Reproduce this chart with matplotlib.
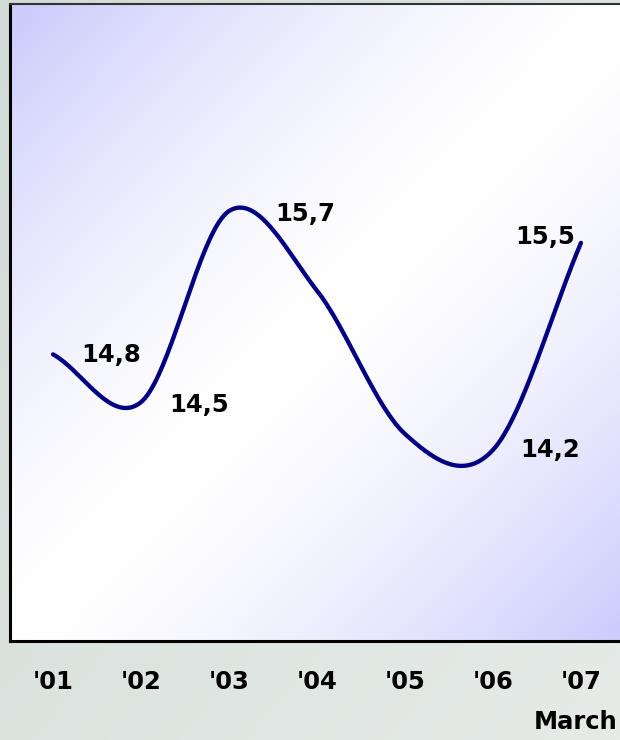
import numpy as np
import matplotlib
matplotlib.use('Agg')
import matplotlib.pyplot as plt
from matplotlib.colors import LinearSegmentedColormap

years = ["'01", "'02", "'03", "'04", "'05", "'06", "'07"]
values = [14.8, 14.5, 15.7, 15.2, 14.3, 14.2, 15.5]
labelled = [0, 1, 2, 5, 6]
# label offsets in pixels from each point
label_offsets = {0: (58, -1), 1: (58, -3), 2: (76, -3), 5: (57, 0), 6: (-36, 6)}


def smooth(y, n=40):
    # cardinal (Catmull-Rom) spline through the points, like a "smoothed line"
    y = np.asarray(y, dtype=float)
    m = np.empty_like(y)
    m[1:-1] = (y[2:] - y[:-2]) / 2
    m[0] = y[1] - y[0]
    m[-1] = y[-1] - y[-2]
    xs, ys = [], []
    t = np.linspace(0, 1, n, endpoint=False)
    for i in range(len(y) - 1):
        h00 = 2 * t**3 - 3 * t**2 + 1
        h10 = t**3 - 2 * t**2 + t
        h01 = -2 * t**3 + 3 * t**2
        h11 = t**3 - t**2
        xs.append(i + t)
        ys.append(h00 * y[i] + h10 * m[i] + h01 * y[i + 1] + h11 * m[i + 1])
    xs.append([len(y) - 1])
    ys.append([y[-1]])
    return np.concatenate(xs), np.concatenate(ys)


fig = plt.figure(figsize=(6.2, 7.4), dpi=100)

# greyish page background
bg = fig.add_axes([0, 0, 1, 1], zorder=-10)
gx, gy = np.meshgrid(np.linspace(0, 1, 200), np.linspace(0, 1, 200))
page = LinearSegmentedColormap.from_list('page', ['#d2dbd7', '#e6ebe8'])
bg.imshow((gx + gy) / 2, cmap=page, aspect='auto', extent=[0, 1, 0, 1])
bg.axis('off')

ax = fig.add_axes([10 / 620, 99 / 740, 622 / 620, 637 / 740])
xmin, xmax = -0.489, 6.58
ymin, ymax = 13.0, 17.0

# diagonal lavender-white-lavender fill
u, v = np.meshgrid(np.linspace(0, 1, 300), np.linspace(1, 0, 300))
shade = np.abs(u - v) ** 1.5
lav = LinearSegmentedColormap.from_list('lav', ['#ffffff', '#cacafc'])
ax.imshow(shade, cmap=lav, vmin=0, vmax=1, aspect='auto',
          extent=[xmin, xmax, ymin, ymax], zorder=0)

sx, sy = smooth(values)
ax.plot(sx, sy, color='#000080', lw=3.1, solid_capstyle='round', zorder=3)

for i in labelled:
    dx, dy = label_offsets[i]
    ax.annotate(f'{values[i]:.1f}'.replace('.', ','), (i, values[i]),
                xytext=(dx, dy), textcoords='offset pixels',
                ha='center', va='center', fontsize=17.5, fontweight='bold',
                color='black', zorder=4)

ax.set_xlim(xmin, xmax)
ax.set_ylim(ymin, ymax)
ax.set_xticks(range(len(years)))
ax.set_xticklabels(years, fontsize=17.5, fontweight='bold')
ax.tick_params(axis='x', length=0, pad=21)
ax.set_yticks([])
for side in ['left', 'bottom']:
    ax.spines[side].set_linewidth(2.2)
    ax.spines[side].set_color('black')
ax.spines['top'].set_linewidth(1.5)
ax.spines['top'].set_color('#333333')
ax.spines['right'].set_visible(False)

fig.text(617 / 620, 1 - 722 / 740, 'March', fontsize=17.5, fontweight='bold',
         ha='right', va='center')

plt.savefig('out.png', dpi=100)
